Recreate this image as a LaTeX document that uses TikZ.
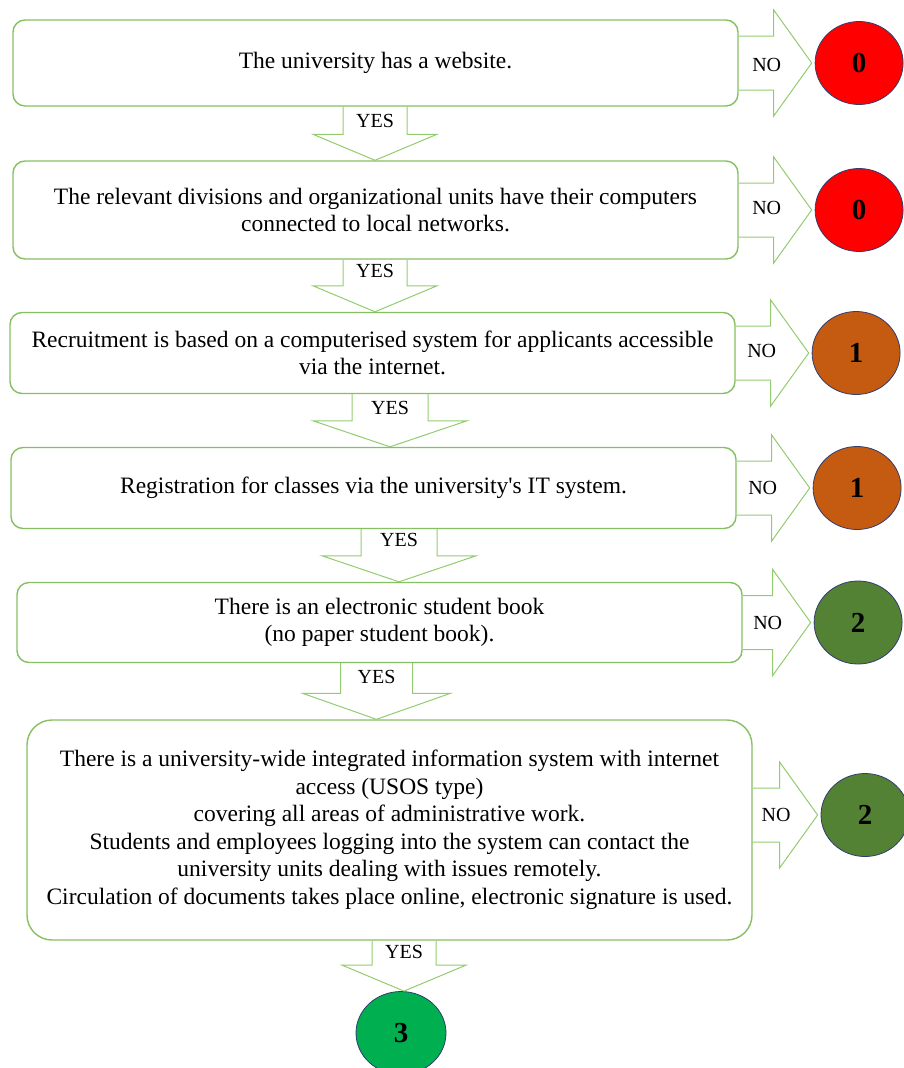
\documentclass[tikz,border=0pt]{standalone}
\usepackage{fontspec}
\setmainfont{Liberation Serif}[Ligatures=TeXOff]
\usetikzlibrary{positioning,calc,shapes.geometric}

\definecolor{boxgreen}{RGB}{134,192,98}
\definecolor{arrgreen}{RGB}{146,204,110}
\definecolor{ringblue}{RGB}{47,60,110}
\definecolor{zerored}{RGB}{255,0,0}
\definecolor{onebrown}{RGB}{197,90,17}
\definecolor{twogreen}{RGB}{84,130,53}
\definecolor{threegreen}{RGB}{0,176,80}

% block arrow from a question box to its score
\newcommand{\noarrow}[2]{%
  \draw[blockline] let \p1=(#1.east), \p2=(#2.west) in
    (\x1,\y2+27pt) -- (\x2-41pt,\y2+27pt) -- (\x2-41pt,\y2+53pt) -- (\x2-3pt,\y2)
    -- (\x2-41pt,\y2-53pt) -- (\x2-41pt,\y2-27pt) -- (\x1,\y2-27pt);}
% block arrow down through a YES label
\newcommand{\yesarrow}[5]{%
  \draw[blockline] let \p1=(#1), \p2=(#2.south), \p3=(#3.north) in
    (\x1-#4pt,\y2) -- (\x1-#4pt,\y3+26pt) -- (\x1-#5pt,\y3+26pt) -- (\x1,\y3)
    -- (\x1+#5pt,\y3+26pt) -- (\x1+#4pt,\y3+26pt) -- (\x1+#4pt,\y2);}

\begin{document}
\begin{tikzpicture}[x=1pt, y=-1pt,
    stepbox/.style={draw=boxgreen, line width=1.4pt, rounded corners=12pt, fill=white,
      align=center, inner sep=0pt, minimum width=725pt, font=\fontsize{23.5}{27.5}\selectfont},
    score/.style={ellipse, draw=ringblue, line width=0.8pt, minimum width=88pt,
      minimum height=83pt, inner sep=0pt, font=\fontsize{29}{30}\selectfont\bfseries},
    lbl/.style={inner sep=0pt, font=\fontsize{20}{22}\selectfont},
    blockline/.style={draw=arrgreen, line width=1pt}]
  \useasboundingbox (0,0) rectangle (903,1068);

  % questions
  \node[stepbox, minimum height=86pt] (b1) at (375.5,63) {\raisebox{-4pt}{The university has a website.}};
  \node[stepbox, minimum height=98pt] (b2) at (375.5,210)
    {The relevant divisions and organizational units have their computers\\ connected to local networks.};
  \node[stepbox, minimum height=81pt] (b3) at (372.5,353)
    {Recruitment is based on a computerised system for applicants accessible\\ via the internet.};
  \node[stepbox, minimum height=81pt] (b4) at (373.5,488)
    {Registration for classes via the university's IT system.};
  \node[stepbox, minimum height=80pt] (b5) at (379.5,622.5)
    {There is an electronic student book\\ (no paper student book).};
  \node[stepbox, minimum height=220pt, rounded corners=25pt] (b6) at (389.5,830)
    {There is a university-wide integrated information system with internet\\ access (USOS type)\\
     covering all areas of administrative work.\\
     Students and employees logging into the system can contact the\\
     university units dealing with issues remotely.\\
     Circulation of documents takes place online, electronic signature is used.};

  % scores
  \node[score, fill=zerored, right=76pt of b1] (s1) {0};
  \node[score, fill=zerored, right=76pt of b2] (s2) {0};
  \node[score, fill=onebrown, right=76pt of b3] (s3) {1};
  \node[score, fill=onebrown, right=76pt of b4] (s4) {1};
  \node[score, fill=twogreen, right=71pt of b5] (s5) {2};
  \node[score, fill=twogreen] (s6) at (865,815) {2};
  \node[score, fill=threegreen, minimum width=90pt] (s7) at (401,1033) {3};

  % NO arrows
  \noarrow{b1}{s1} \noarrow{b2}{s2} \noarrow{b3}{s3}
  \noarrow{b4}{s4} \noarrow{b5}{s5} \noarrow{b6}{s6}
  \node[lbl] (n1) at ($(b1.east)+(28,2)$) {NO};
  \node[lbl] (n2) at ($(b2.east)+(28,-2)$) {NO};
  \node[lbl] (n3) at ($(b3.east)+(26,-2)$) {NO};
  \node[lbl] (n4) at ($(b4.east)+(26,0)$) {NO};
  \node[lbl] (n5) at ($(b5.east)+(25,0)$) {NO};
  \node[lbl] (n6) at (776,815) {NO};

  % YES arrows
  \node[lbl] (y1) at (375,121) {YES};
  \node[lbl] (y2) at (375,271) {YES};
  \node[lbl] (y3) at (390,408) {YES};
  \node[lbl] (y4) at (399,540) {YES};
  \node[lbl] (y5) at (376.5,677) {YES};
  \node[lbl] (y6) at (404,952) {YES};
  \yesarrow{y1}{b1}{b2}{32}{62}
  \yesarrow{y2}{b2}{b3}{32}{62}
  \yesarrow{y3}{b3}{b4}{38}{77}
  \yesarrow{y4}{b4}{b5}{38}{77}
  \yesarrow{y5}{b5}{b6}{36}{74}
  \yesarrow{y6}{b6}{s7}{32}{62}
\end{tikzpicture}
\end{document}
